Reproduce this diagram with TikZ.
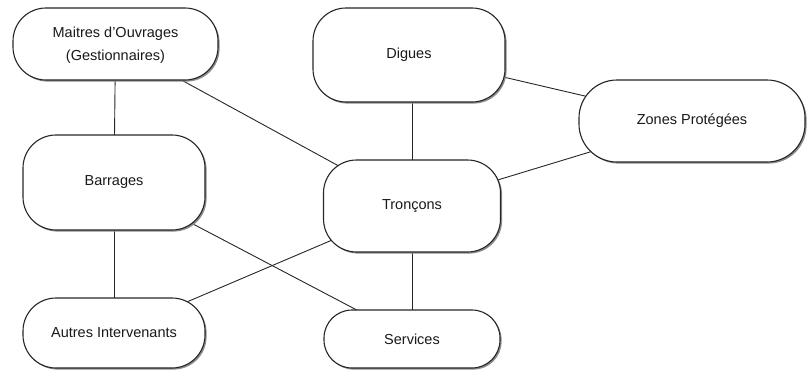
\documentclass[tikz,border=0pt]{standalone}
\usepackage{fontspec}
\setmainfont{Liberation Sans}
\usetikzlibrary{shadows,backgrounds}
\begin{document}
\begin{tikzpicture}[x=1pt,y=-1pt,
  box/.style={draw=black!85, line width=1.1pt, fill=white, rounded corners=33pt,
    align=center, inner sep=0pt, text=black!90,
    font=\fontsize{14.5}{23}\selectfont,
    drop shadow={shadow xshift=1.6pt, shadow yshift=-1.6pt, fill=black!45, opacity=1}},
  link/.style={draw=black!85, line width=0.9pt}]
\useasboundingbox (0,0) rectangle (808,372);
\node[box, minimum width=205pt, minimum height=72pt] (M) at (115.5,44)
  {\raisebox{-4pt}{\begin{tabular}{@{}c@{}}Maitres d'Ouvrages\\(Gestionnaires)\end{tabular}}};
\node[box, minimum width=192pt, minimum height=94pt] (D) at (409,55) {Digues};
\node[box, minimum width=226pt, minimum height=82pt, rounded corners=38pt] (Z) at (692,121) {Zones Protégées};
\node[box, minimum width=177pt, minimum height=92pt] (T) at (412,206) {Tronçons};
\node[box, minimum width=176pt, minimum height=58pt, rounded corners=28pt] (S) at (412,339) {Services};
\node[box, minimum width=182pt, minimum height=95pt] (B) at (114,182.5) {Barrages};
\node[box, minimum width=182pt, minimum height=70pt] (A) at (114,333) {Autres Intervenants};
\begin{scope}[on background layer]
  \draw[link] (M.center) -- (B.center);
  \draw[link] (B.center) -- (A.center);
  \draw[link] (M.center) -- (T.center);
  \draw[link] (D.center -| T.center) -- (T.center);
  \draw[link] (D.center) -- (Z.center);
  \draw[link] (T.center) -- (Z.center);
  \draw[link] (T.center) -- (A.center);
  \draw[link] (B.center) -- (S.center);
  \draw[link] (T.center) -- (S.center);
\end{scope}
\end{tikzpicture}
\end{document}
